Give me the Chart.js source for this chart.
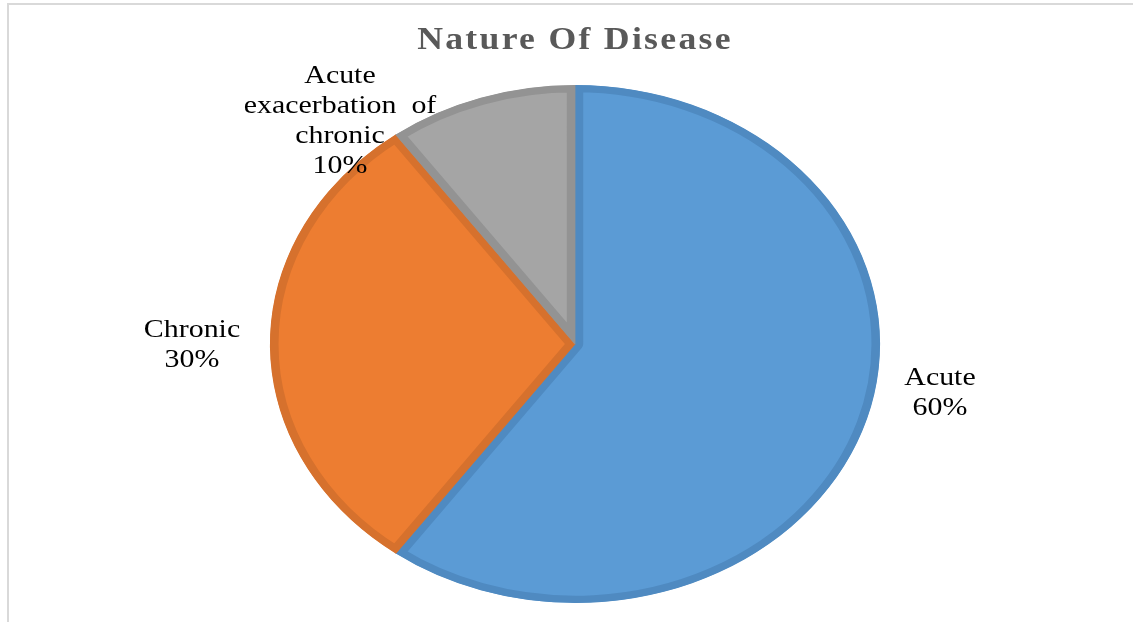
<!DOCTYPE html>
<html>
<head>
<meta charset="utf-8">
<script src="https://cdn.jsdelivr.net/npm/chart.js@4.4.0/dist/chart.umd.min.js"></script>
<style>
  html, body { margin: 0; padding: 0; background: #fff; overflow: hidden; }
  #wrap { position: relative; width: 1133px; height: 622px; overflow: hidden; }
  #frame { position: absolute; left: 7px; top: 3px; right: 0; bottom: 0;
           border-top: 2px solid #d9d9d9; border-left: 2px solid #d9d9d9; }
  #pie { position: absolute; left: 0; top: 0; }
</style>
</head>
<body>
<div id="wrap">
  <div id="frame"></div>
  <canvas id="pie" width="1133" height="622"></canvas>
</div>
<script>
// chart data
var categories = ['Acute', 'Chronic', 'Acute exacerbation of chronic'];
var labelLines = [['Acute'], ['Chronic'], ['Acute', 'exacerbation  of', 'chronic']];
var shares     = [60, 30, 10];

var fillColors   = ['#5B9BD5', '#ED7D31', '#A5A5A5'];
var borderColors = ['#4F8AC1', '#D6712D', '#939393'];

// label block positions, relative to the pie centre (first baseline)
var labelOffsets = [[365, 41], [-383, -7], [-235, -261]];

var STRETCH = 1.178;   // the original picture is squashed into an ellipse
var TEXT_STRETCH = 1.15;

// draw the pie slices stretched horizontally
var stretchPlugin = {
  id: 'stretch',
  beforeDatasetsDraw: function(chart) {
    var arc = chart.getDatasetMeta(0).data[0];
    var ctx = chart.ctx;
    ctx.save();
    ctx.translate(arc.x, 0);
    ctx.scale(STRETCH, 1);
    ctx.translate(-arc.x, 0);
  },
  afterDatasetsDraw: function(chart) {
    chart.ctx.restore();
  }
};

// title + outside data labels
var textPlugin = {
  id: 'texts',
  afterDraw: function(chart) {
    var ctx = chart.ctx;
    var arc = chart.getDatasetMeta(0).data[0];

    ctx.save();
    ctx.translate(arc.x, 49);
    ctx.scale(TEXT_STRETCH, 1);
    ctx.font = 'bold 31px "Liberation Serif"';
    ctx.fillStyle = '#595959';
    ctx.textAlign = 'center';
    ctx.textBaseline = 'alphabetic';
    if ('letterSpacing' in ctx) ctx.letterSpacing = '2px';
    ctx.fillText('Nature Of Disease', 0, 0);
    ctx.restore();

    var lh = 30;
    categories.forEach(function(c, i) {
      var lines = labelLines[i].concat([shares[i] + '%']);
      ctx.save();
      ctx.translate(arc.x + labelOffsets[i][0], arc.y + labelOffsets[i][1]);
      ctx.scale(TEXT_STRETCH, 1);
      ctx.font = '26px "Liberation Serif"';
      ctx.fillStyle = '#000000';
      ctx.textAlign = 'center';
      ctx.textBaseline = 'alphabetic';
      lines.forEach(function(t, k) {
        ctx.fillText(t, 0, k * lh);
      });
      ctx.restore();
    });
  }
};

new Chart(document.getElementById('pie'), {
  type: 'pie',
  data: {
    labels: categories,
    datasets: [{
      data: shares,
      backgroundColor: fillColors,
      borderColor: borderColors,
      borderWidth: 7,
      borderAlign: 'inner'
    }]
  },
  options: {
    responsive: false,
    animation: false,
    devicePixelRatio: 1,
    events: [],
    layout: { padding: { top: 85, bottom: 19, left: 300, right: 283 } },
    plugins: {
      legend: { display: false },
      tooltip: { enabled: false },
      title: { display: false }
    }
  },
  plugins: [stretchPlugin, textPlugin]
});
</script>
</body>
</html>
